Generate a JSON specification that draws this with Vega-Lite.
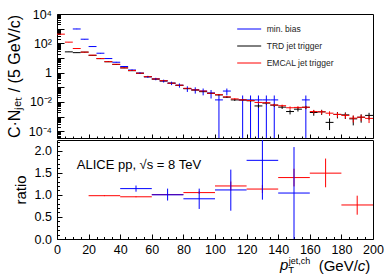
{
"$schema": "https://vega.github.io/schema/vega-lite/v6.json",
"background": "white",
"padding": {"left": 5, "top": 7, "right": 5, "bottom": 5},
"config": {
  "font": "Liberation Sans",
  "view": {"stroke": "black", "strokeWidth": 1},
  "axis": {"grid": false, "domain": false, "tickColor": "black", "labelColor": "black", "titleColor": "black", "labelFontSize": 12.5, "titleFontWeight": "normal", "tickWidth": 1, "labelFont": "Liberation Sans", "titleFont": "Liberation Sans", "labelOverlap": false, "labelFlush": false}
},
"datasets": {
"spec": [
{"s":"min. bias","x0":10,"x1":15,"xc":12.5,"y":950,"lo":920,"hi":980},
{"s":"min. bias","x0":15,"x1":20,"xc":17.5,"y":190,"lo":184,"hi":196},
{"s":"min. bias","x0":20,"x1":25,"xc":22.5,"y":60,"lo":58,"hi":62},
{"s":"min. bias","x0":25,"x1":30,"xc":27.5,"y":21,"lo":20.2,"hi":21.8},
{"s":"min. bias","x0":30,"x1":35,"xc":32.5,"y":9.1,"lo":8.75,"hi":9.45},
{"s":"min. bias","x0":35,"x1":40,"xc":37.5,"y":5.1,"lo":4.84,"hi":5.36},
{"s":"min. bias","x0":40,"x1":45,"xc":42.5,"y":2.6,"lo":2.41,"hi":2.79},
{"s":"min. bias","x0":45,"x1":50,"xc":47.5,"y":1.5,"lo":1.36,"hi":1.64},
{"s":"min. bias","x0":50,"x1":55,"xc":52.5,"y":0.92,"lo":0.81,"hi":1.03},
{"s":"min. bias","x0":55,"x1":60,"xc":57.5,"y":0.52,"lo":0.44,"hi":0.6},
{"s":"min. bias","x0":60,"x1":65,"xc":62.5,"y":0.37,"lo":0.3,"hi":0.44},
{"s":"min. bias","x0":65,"x1":70,"xc":67.5,"y":0.27,"lo":0.21,"hi":0.33},
{"s":"min. bias","x0":70,"x1":75,"xc":72.5,"y":0.19,"lo":0.14,"hi":0.24},
{"s":"min. bias","x0":75,"x1":80,"xc":77.5,"y":0.137,"lo":0.094,"hi":0.18},
{"s":"min. bias","x0":80,"x1":85,"xc":82.5,"y":0.082,"lo":0.048,"hi":0.116},
{"s":"min. bias","x0":85,"x1":90,"xc":87.5,"y":0.068,"lo":0.037,"hi":0.099},
{"s":"min. bias","x0":90,"x1":95,"xc":92.5,"y":0.055,"lo":0.028,"hi":0.082},
{"s":"min. bias","x0":95,"x1":100,"xc":97.5,"y":0.041,"lo":0.017,"hi":0.065},
{"s":"min. bias","x0":100,"x1":105,"xc":102.5,"y":0.0137,"lo":0.000001,"hi":0.0274},
{"s":"min. bias","x0":105,"x1":110,"xc":107.5,"y":0.055,"lo":0.028,"hi":0.082},
{"s":"min. bias","x0":115,"x1":120,"xc":117.5,"y":0.0137,"lo":0.000001,"hi":0.0274},
{"s":"min. bias","x0":120,"x1":125,"xc":122.5,"y":0.0137,"lo":0.000001,"hi":0.0274},
{"s":"min. bias","x0":125,"x1":130,"xc":127.5,"y":0.0137,"lo":0.000001,"hi":0.0274},
{"s":"min. bias","x0":130,"x1":135,"xc":132.5,"y":0.0137,"lo":0.000001,"hi":0.0274},
{"s":"min. bias","x0":135,"x1":140,"xc":137.5,"y":0.0137,"lo":0.000001,"hi":0.0274},
{"s":"min. bias","x0":155,"x1":160,"xc":157.5,"y":0.0137,"lo":0.000001,"hi":0.0274},
{"s":"TRD jet trigger","x0":5,"x1":10,"xc":7.5,"y":26,"lo":25.5,"hi":26.5},
{"s":"TRD jet trigger","x0":10,"x1":15,"xc":12.5,"y":23,"lo":22.5,"hi":23.5},
{"s":"TRD jet trigger","x0":15,"x1":20,"xc":17.5,"y":25,"lo":24.5,"hi":25.5},
{"s":"TRD jet trigger","x0":20,"x1":25,"xc":22.5,"y":15,"lo":14.7,"hi":15.3},
{"s":"TRD jet trigger","x0":25,"x1":30,"xc":27.5,"y":9.0,"lo":8.8,"hi":9.2},
{"s":"TRD jet trigger","x0":30,"x1":35,"xc":32.5,"y":5.5,"lo":5.35,"hi":5.65},
{"s":"TRD jet trigger","x0":35,"x1":40,"xc":37.5,"y":3.6,"lo":3.5,"hi":3.7},
{"s":"TRD jet trigger","x0":40,"x1":45,"xc":42.5,"y":2.1,"lo":2.04,"hi":2.16},
{"s":"TRD jet trigger","x0":45,"x1":50,"xc":47.5,"y":1.35,"lo":1.31,"hi":1.39},
{"s":"TRD jet trigger","x0":50,"x1":55,"xc":52.5,"y":0.9,"lo":0.87,"hi":0.93},
{"s":"TRD jet trigger","x0":55,"x1":60,"xc":57.5,"y":0.52,"lo":0.5,"hi":0.54},
{"s":"TRD jet trigger","x0":60,"x1":65,"xc":62.5,"y":0.36,"lo":0.345,"hi":0.375},
{"s":"TRD jet trigger","x0":65,"x1":70,"xc":67.5,"y":0.27,"lo":0.258,"hi":0.282},
{"s":"TRD jet trigger","x0":70,"x1":75,"xc":72.5,"y":0.19,"lo":0.181,"hi":0.199},
{"s":"TRD jet trigger","x0":75,"x1":80,"xc":77.5,"y":0.135,"lo":0.129,"hi":0.141},
{"s":"TRD jet trigger","x0":80,"x1":85,"xc":82.5,"y":0.08,"lo":0.075,"hi":0.085},
{"s":"TRD jet trigger","x0":85,"x1":90,"xc":87.5,"y":0.064,"lo":0.06,"hi":0.068},
{"s":"TRD jet trigger","x0":90,"x1":95,"xc":92.5,"y":0.05,"lo":0.046,"hi":0.054},
{"s":"TRD jet trigger","x0":95,"x1":100,"xc":97.5,"y":0.038,"lo":0.0346,"hi":0.0414},
{"s":"TRD jet trigger","x0":100,"x1":105,"xc":102.5,"y":0.03,"lo":0.027,"hi":0.033},
{"s":"TRD jet trigger","x0":105,"x1":110,"xc":107.5,"y":0.021,"lo":0.0185,"hi":0.0235},
{"s":"TRD jet trigger","x0":110,"x1":115,"xc":112.5,"y":0.0137,"lo":0.0117,"hi":0.0157},
{"s":"TRD jet trigger","x0":115,"x1":120,"xc":117.5,"y":0.0135,"lo":0.0115,"hi":0.0155},
{"s":"TRD jet trigger","x0":120,"x1":125,"xc":122.5,"y":0.012,"lo":0.0101,"hi":0.0139},
{"s":"TRD jet trigger","x0":125,"x1":130,"xc":127.5,"y":0.0053,"lo":0.004,"hi":0.0066},
{"s":"TRD jet trigger","x0":130,"x1":135,"xc":132.5,"y":0.0083,"lo":0.0067,"hi":0.0099},
{"s":"TRD jet trigger","x0":135,"x1":140,"xc":137.5,"y":0.006,"lo":0.0047,"hi":0.0073},
{"s":"TRD jet trigger","x0":140,"x1":145,"xc":142.5,"y":0.0044,"lo":0.0033,"hi":0.0055},
{"s":"TRD jet trigger","x0":145,"x1":150,"xc":147.5,"y":0.0022,"lo":0.0014,"hi":0.003},
{"s":"TRD jet trigger","x0":150,"x1":155,"xc":152.5,"y":0.0032,"lo":0.0022,"hi":0.0042},
{"s":"TRD jet trigger","x0":155,"x1":160,"xc":157.5,"y":0.0043,"lo":0.0032,"hi":0.0054},
{"s":"TRD jet trigger","x0":160,"x1":165,"xc":162.5,"y":0.0019,"lo":0.00114,"hi":0.00266},
{"s":"TRD jet trigger","x0":165,"x1":170,"xc":167.5,"y":0.0021,"lo":0.0013,"hi":0.0029},
{"s":"TRD jet trigger","x0":170,"x1":175,"xc":172.5,"y":0.0004,"lo":0.00012,"hi":0.00075},
{"s":"TRD jet trigger","x0":175,"x1":180,"xc":177.5,"y":0.0014,"lo":0.00075,"hi":0.00205},
{"s":"TRD jet trigger","x0":180,"x1":185,"xc":182.5,"y":0.0013,"lo":0.00068,"hi":0.00192},
{"s":"TRD jet trigger","x0":185,"x1":190,"xc":187.5,"y":0.0007,"lo":0.00025,"hi":0.00115},
{"s":"TRD jet trigger","x0":190,"x1":195,"xc":192.5,"y":0.0009,"lo":0.00038,"hi":0.00142},
{"s":"TRD jet trigger","x0":195,"x1":200,"xc":197.5,"y":0.0012,"lo":0.0006,"hi":0.0018},
{"s":"EMCAL jet trigger","x0":0,"x1":5,"xc":2.5,"y":420,"lo":410,"hi":430},
{"s":"EMCAL jet trigger","x0":5,"x1":10,"xc":7.5,"y":120,"lo":117,"hi":123},
{"s":"EMCAL jet trigger","x0":10,"x1":15,"xc":12.5,"y":44,"lo":43,"hi":45},
{"s":"EMCAL jet trigger","x0":15,"x1":20,"xc":17.5,"y":25,"lo":24.4,"hi":25.6},
{"s":"EMCAL jet trigger","x0":20,"x1":25,"xc":22.5,"y":15.5,"lo":15.1,"hi":15.9},
{"s":"EMCAL jet trigger","x0":25,"x1":30,"xc":27.5,"y":9.1,"lo":8.9,"hi":9.3},
{"s":"EMCAL jet trigger","x0":30,"x1":35,"xc":32.5,"y":5.6,"lo":5.45,"hi":5.75},
{"s":"EMCAL jet trigger","x0":35,"x1":40,"xc":37.5,"y":3.7,"lo":3.6,"hi":3.8},
{"s":"EMCAL jet trigger","x0":40,"x1":45,"xc":42.5,"y":2.1,"lo":2.04,"hi":2.16},
{"s":"EMCAL jet trigger","x0":45,"x1":50,"xc":47.5,"y":1.4,"lo":1.36,"hi":1.44},
{"s":"EMCAL jet trigger","x0":50,"x1":55,"xc":52.5,"y":0.91,"lo":0.88,"hi":0.94},
{"s":"EMCAL jet trigger","x0":55,"x1":60,"xc":57.5,"y":0.53,"lo":0.51,"hi":0.55},
{"s":"EMCAL jet trigger","x0":60,"x1":65,"xc":62.5,"y":0.37,"lo":0.355,"hi":0.385},
{"s":"EMCAL jet trigger","x0":65,"x1":70,"xc":67.5,"y":0.28,"lo":0.268,"hi":0.292},
{"s":"EMCAL jet trigger","x0":70,"x1":75,"xc":72.5,"y":0.19,"lo":0.182,"hi":0.198},
{"s":"EMCAL jet trigger","x0":75,"x1":80,"xc":77.5,"y":0.138,"lo":0.133,"hi":0.143},
{"s":"EMCAL jet trigger","x0":80,"x1":85,"xc":82.5,"y":0.085,"lo":0.081,"hi":0.089},
{"s":"EMCAL jet trigger","x0":85,"x1":90,"xc":87.5,"y":0.066,"lo":0.062,"hi":0.07},
{"s":"EMCAL jet trigger","x0":90,"x1":95,"xc":92.5,"y":0.055,"lo":0.052,"hi":0.058},
{"s":"EMCAL jet trigger","x0":95,"x1":100,"xc":97.5,"y":0.039,"lo":0.036,"hi":0.042},
{"s":"EMCAL jet trigger","x0":100,"x1":105,"xc":102.5,"y":0.031,"lo":0.0285,"hi":0.0335},
{"s":"EMCAL jet trigger","x0":105,"x1":110,"xc":107.5,"y":0.022,"lo":0.02,"hi":0.024},
{"s":"EMCAL jet trigger","x0":110,"x1":115,"xc":112.5,"y":0.016,"lo":0.0142,"hi":0.0178},
{"s":"EMCAL jet trigger","x0":115,"x1":120,"xc":117.5,"y":0.0137,"lo":0.012,"hi":0.0153},
{"s":"EMCAL jet trigger","x0":120,"x1":125,"xc":122.5,"y":0.0123,"lo":0.0107,"hi":0.0139},
{"s":"EMCAL jet trigger","x0":125,"x1":130,"xc":127.5,"y":0.0092,"lo":0.0078,"hi":0.0106},
{"s":"EMCAL jet trigger","x0":130,"x1":135,"xc":132.5,"y":0.0088,"lo":0.0075,"hi":0.0101},
{"s":"EMCAL jet trigger","x0":135,"x1":140,"xc":137.5,"y":0.0062,"lo":0.0051,"hi":0.0073},
{"s":"EMCAL jet trigger","x0":140,"x1":145,"xc":142.5,"y":0.0055,"lo":0.0045,"hi":0.0065},
{"s":"EMCAL jet trigger","x0":145,"x1":150,"xc":147.5,"y":0.004,"lo":0.0031,"hi":0.0049},
{"s":"EMCAL jet trigger","x0":150,"x1":155,"xc":152.5,"y":0.0042,"lo":0.0033,"hi":0.0051},
{"s":"EMCAL jet trigger","x0":155,"x1":160,"xc":157.5,"y":0.0043,"lo":0.0034,"hi":0.0052},
{"s":"EMCAL jet trigger","x0":160,"x1":165,"xc":162.5,"y":0.0022,"lo":0.00154,"hi":0.00286},
{"s":"EMCAL jet trigger","x0":165,"x1":170,"xc":167.5,"y":0.0021,"lo":0.00145,"hi":0.00275},
{"s":"EMCAL jet trigger","x0":170,"x1":175,"xc":172.5,"y":0.0017,"lo":0.00112,"hi":0.00228},
{"s":"EMCAL jet trigger","x0":175,"x1":180,"xc":177.5,"y":0.0014,"lo":0.00087,"hi":0.00193},
{"s":"EMCAL jet trigger","x0":180,"x1":185,"xc":182.5,"y":0.0012,"lo":0.00071,"hi":0.00169},
{"s":"EMCAL jet trigger","x0":185,"x1":190,"xc":187.5,"y":0.00078,"lo":0.00039,"hi":0.00117},
{"s":"EMCAL jet trigger","x0":190,"x1":195,"xc":192.5,"y":0.0009,"lo":0.00048,"hi":0.00132},
{"s":"EMCAL jet trigger","x0":195,"x1":200,"xc":197.5,"y":0.00075,"lo":0.00036,"hi":0.00114}
],
"ratio": [
{"s":"EMCAL jet trigger","x0":20,"x1":40,"xc":30,"y":0.98,"lo":0.97,"hi":0.99},
{"s":"EMCAL jet trigger","x0":40,"x1":60,"xc":50,"y":0.955,"lo":0.945,"hi":0.965},
{"s":"EMCAL jet trigger","x0":60,"x1":80,"xc":70,"y":1.005,"lo":0.99,"hi":1.02},
{"s":"EMCAL jet trigger","x0":80,"x1":100,"xc":90,"y":1.05,"lo":1.02,"hi":1.08},
{"s":"EMCAL jet trigger","x0":100,"x1":120,"xc":110,"y":1.2,"lo":1.1,"hi":1.3},
{"s":"EMCAL jet trigger","x0":120,"x1":140,"xc":130,"y":1.13,"lo":1.04,"hi":1.22},
{"s":"EMCAL jet trigger","x0":140,"x1":160,"xc":150,"y":1.39,"lo":1.19,"hi":1.59},
{"s":"EMCAL jet trigger","x0":160,"x1":180,"xc":170,"y":1.49,"lo":1.17,"hi":1.82},
{"s":"EMCAL jet trigger","x0":180,"x1":200,"xc":190,"y":0.77,"lo":0.55,"hi":0.98},
{"s":"min. bias","x0":40,"x1":60,"xc":50,"y":1.14,"lo":1.07,"hi":1.21},
{"s":"min. bias","x0":60,"x1":80,"xc":70,"y":1.0,"lo":0.87,"hi":1.14},
{"s":"min. bias","x0":80,"x1":100,"xc":90,"y":0.91,"lo":0.68,"hi":1.14},
{"s":"min. bias","x0":100,"x1":120,"xc":110,"y":1.11,"lo":0.64,"hi":1.57},
{"s":"min. bias","x0":120,"x1":140,"xc":130,"y":1.78,"lo":0.89,"hi":2.67},
{"s":"min. bias","x0":140,"x1":160,"xc":150,"y":1.04,"lo":0.0,"hi":2.08}
]
},
"spacing": 0,
"resolve": {"scale": {"color": "independent"}},
"vconcat": [
{
  "width": 316, "height": 124,
  "data": {"name": "spec"},
  "layer": [
    {"mark": {"type": "rule", "strokeWidth": 1, "clip": true},
     "encoding": {
       "x": {"field": "x0", "type": "quantitative", "scale": {"domain": [0, 200], "nice": false, "zero": false},
             "axis": {"orient": "bottom", "values": [0,20,40,60,80,100,120,140,160,180,200], "labels": false, "tickSize": -4, "title": null}},
       "x2": {"field": "x1"},
       "y": {"field": "y", "type": "quantitative", "scale": {"type": "log", "domain": [0.0000344, 10000], "nice": false},
             "axis": {"orient": "left", "values": [0.0001,0.001,0.01,0.1,1,10,100,1000,10000], "tickSize": -7, "labelPadding": 12.5,
                      "labelExpr": "datum.value > 5000 ? '10⁴' : datum.value > 500 ? '' : datum.value > 50 ? '10²' : datum.value > 5 ? '' : datum.value > 0.5 ? '1' : datum.value > 0.05 ? '' : datum.value > 0.005 ? '10⁻²' : datum.value > 0.0005 ? '' : '10⁻⁴'",
                      "title": "C·Nⱼₑₜ / (5 GeV/c)", "titleFontSize": 16, "titlePadding": 6}},
       "color": {"field": "s", "type": "nominal",
                 "scale": {"domain": ["min. bias", "TRD jet trigger", "EMCAL jet trigger"], "range": ["#0000ff", "#000000", "#ff0000"]},
                 "legend": {"orient": "none", "legendX": 179.7, "legendY": 2.5, "title": null, "symbolType": "stroke", "symbolSize": 576, "symbolStrokeWidth": 1, "labelFontSize": 8.5, "labelOffset": 5, "rowPadding": -4.5, "padding": 0, "labelColor": "#222222", "labelFont": "Liberation Sans"}}
     }},
    {"mark": {"type": "rule", "strokeWidth": 1, "clip": true},
     "encoding": {
       "x": {"field": "xc", "type": "quantitative",
             "axis": {"orient": "bottom", "values": [5,10,15,25,30,35,45,50,55,65,70,75,85,90,95,105,110,115,125,130,135,145,150,155,165,170,175,185,190,195], "labels": false, "tickSize": -2, "title": null}},
       "y": {"field": "lo", "type": "quantitative",
             "axis": {"orient": "left", "labels": false, "tickSize": -3.5, "title": null,
                      "values": [0.00004,0.00005,0.00006,0.00007,0.00008,0.00009,0.0002,0.0003,0.0004,0.0005,0.0006,0.0007,0.0008,0.0009,0.002,0.003,0.004,0.005,0.006,0.007,0.008,0.009,0.02,0.03,0.04,0.05,0.06,0.07,0.08,0.09,0.2,0.3,0.4,0.5,0.6,0.7,0.8,0.9,2,3,4,5,6,7,8,9,20,30,40,50,60,70,80,90,200,300,400,500,600,700,800,900,2000,3000,4000,5000,6000,7000,8000,9000]}},
       "y2": {"field": "hi"},
       "color": {"field": "s", "type": "nominal"}
     }}
  ],
  "resolve": {"axis": {"x": "independent", "y": "independent"}}
},
{
  "width": 316, "height": 99,
  "layer": [
    {"data": {"name": "ratio"},
     "mark": {"type": "rule", "strokeWidth": 1, "clip": true},
     "encoding": {
       "x": {"field": "x0", "type": "quantitative", "scale": {"domain": [0, 200], "nice": false, "zero": false},
             "axis": {"orient": "bottom", "values": [0,20,40,60,80,100,120,140,160,180,200], "tickSize": -5, "labelPadding": 9, "title": null}},
       "x2": {"field": "x1"},
       "y": {"field": "y", "type": "quantitative", "scale": {"domain": [0, 2.24], "nice": false, "zero": false},
             "axis": {"orient": "left", "values": [0,0.5,1,1.5,2], "tickSize": -5, "labelPadding": 10.5, "title": "ratio", "titleFontSize": 15, "titlePadding": 6}},
       "color": {"field": "s", "type": "nominal", "scale": {"domain": ["min. bias", "EMCAL jet trigger"], "range": ["#0000ff", "#ff0000"]}, "legend": null}
     }},
    {"data": {"name": "ratio"},
     "mark": {"type": "rule", "strokeWidth": 1, "clip": true},
     "encoding": {
       "x": {"field": "xc", "type": "quantitative",
             "axis": {"orient": "bottom", "values": [5,10,15,25,30,35,45,50,55,65,70,75,85,90,95,105,110,115,125,130,135,145,150,155,165,170,175,185,190,195], "labels": false, "tickSize": -2.5, "title": null}},
       "y": {"field": "lo", "type": "quantitative",
             "axis": {"orient": "left", "labels": false, "tickSize": -2.5, "title": null, "values": [0.1,0.2,0.3,0.4,0.6,0.7,0.8,0.9,1.1,1.2,1.3,1.4,1.6,1.7,1.8,1.9,2.1,2.2]}},
       "y2": {"field": "hi"},
       "color": {"field": "s", "type": "nominal", "legend": null}
     }},
    {"data": {"values": [{}]},
     "mark": {"type": "text", "align": "left", "baseline": "alphabetic", "fontSize": 13, "color": "black"},
     "encoding": {"x": {"datum": 12.5, "type": "quantitative", "axis": null}, "y": {"datum": 1.59, "type": "quantitative", "axis": null}, "text": {"value": "ALICE pp, √s = 8 TeV"}}},
    {"data": {"values": [{}]},
     "mark": {"type": "text", "align": "left", "baseline": "alphabetic", "fontSize": 15, "fontStyle": "italic", "color": "black"},
     "encoding": {"x": {"datum": 141.2, "type": "quantitative", "axis": null}, "y": {"datum": -0.7, "type": "quantitative", "axis": null}, "text": {"value": "p"}}},
    {"data": {"values": [{}]},
     "mark": {"type": "text", "align": "left", "baseline": "alphabetic", "fontSize": 9.5, "color": "black"},
     "encoding": {"x": {"datum": 146.4, "type": "quantitative", "axis": null}, "y": {"datum": -0.78, "type": "quantitative", "axis": null}, "text": {"value": "T"}}},
    {"data": {"values": [{}]},
     "mark": {"type": "text", "align": "left", "baseline": "alphabetic", "fontSize": 9, "color": "black"},
     "encoding": {"x": {"datum": 146.6, "type": "quantitative", "axis": null}, "y": {"datum": -0.56, "type": "quantitative", "axis": null}, "text": {"value": "jet,ch"}}},
    {"data": {"values": [{}]},
     "mark": {"type": "text", "align": "left", "baseline": "alphabetic", "fontSize": 15, "color": "black"},
     "encoding": {"x": {"datum": 165.6, "type": "quantitative", "axis": null}, "y": {"datum": -0.718, "type": "quantitative", "axis": null}, "text": {"value": "(GeV/"}}},
    {"data": {"values": [{}]},
     "mark": {"type": "text", "align": "left", "baseline": "alphabetic", "fontSize": 15, "fontStyle": "italic", "color": "black"},
     "encoding": {"x": {"datum": 190.4, "type": "quantitative", "axis": null}, "y": {"datum": -0.718, "type": "quantitative", "axis": null}, "text": {"value": "c"}}},
    {"data": {"values": [{}]},
     "mark": {"type": "text", "align": "left", "baseline": "alphabetic", "fontSize": 15, "color": "black"},
     "encoding": {"x": {"datum": 195.1, "type": "quantitative", "axis": null}, "y": {"datum": -0.718, "type": "quantitative", "axis": null}, "text": {"value": ")"}}}
  ],
  "resolve": {"axis": {"x": "independent", "y": "independent"}}
}
]
}
